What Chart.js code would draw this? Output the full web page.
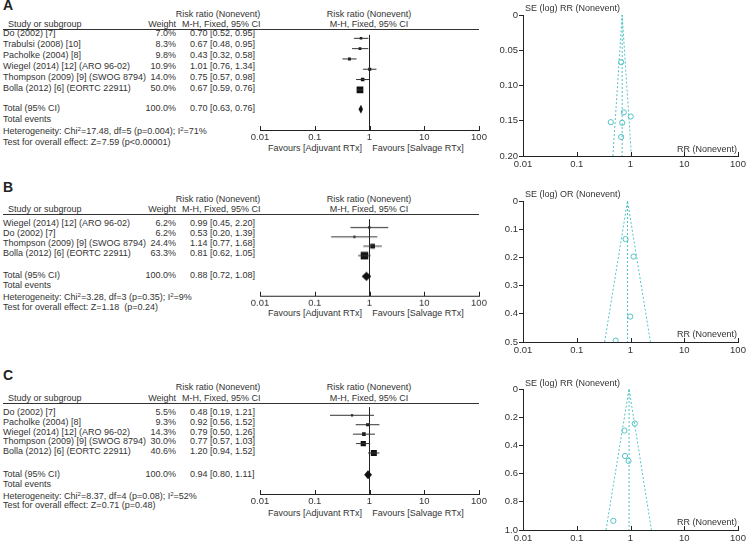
<!DOCTYPE html>
<html>
<head>
<meta charset="utf-8">
<script src="https://cdn.jsdelivr.net/npm/chart.js@4.4.0/dist/chart.umd.min.js"></script>
<style>
  html, body { margin: 0; padding: 0; background: #fff; }
  body {
    width: 750px; height: 541px; position: relative; overflow: hidden;
    font-family: "Liberation Sans", Arial, sans-serif; font-size: 9px; color: #333;
  }
  .t { position: absolute; white-space: nowrap; line-height: 10px; }
  .t sup { font-size: 6px; vertical-align: 3px; line-height: 0; }
  .lbl { font-weight: bold; font-size: 14px; line-height: 14px; color: #222; }
  .rule { position: absolute; height: 1px; background: #333; }
  canvas { position: absolute; }
</style>
</head>
<body>
<script>
// ---- A: adjuvant vs salvage, all studies
const studiesA = ["Do (2002) [7]", "Trabulsi (2008) [10]", "Pacholke (2004) [8]",
  "Wiegel (2014) [12] (ARO 96-02)", "Thompson (2009) [9] (SWOG 8794)", "Bolla (2012) [6] (EORTC 22911)"];
const weightA = [7.0, 8.3, 9.8, 10.9, 14.0, 50.0];
const rrA = [0.70, 0.67, 0.43, 1.01, 0.75, 0.67];
const loA = [0.52, 0.48, 0.32, 0.76, 0.57, 0.59];
const hiA = [0.95, 0.95, 0.58, 1.34, 0.98, 0.76];
const totalA = [0.70, 0.63, 0.76];   // estimate, lower, upper
const seA = [0.153, 0.173, 0.152, 0.144, 0.138, 0.067];
const funnelA = [0.70, 0.47, 1.04];  // centre, lower and upper limit at max SE

// ---- B
const studiesB = ["Wiegel (2014) [12] (ARO 96-02)", "Do (2002) [7]",
  "Thompson (2009) [9] (SWOG 8794)", "Bolla (2012) [6] (EORTC 22911)"];
const weightB = [6.2, 6.2, 24.4, 63.3];
const rrB = [0.99, 0.53, 1.14, 0.81];
const loB = [0.45, 0.20, 0.77, 0.62];
const hiB = [2.20, 1.39, 1.68, 1.05];
const totalB = [0.88, 0.72, 1.08];
const seB = [0.41, 0.495, 0.197, 0.135];
const funnelB = [0.88, 0.33, 2.35];

// ---- C
const studiesC = ["Do (2002) [7]", "Pacholke (2004) [8]", "Wiegel (2014) [12] (ARO 96-02)",
  "Thompson (2009) [9] (SWOG 8794)", "Bolla (2012) [6] (EORTC 22911)"];
const weightC = [5.5, 9.3, 14.3, 30.0, 40.6];
const rrC = [0.48, 0.92, 0.79, 0.77, 1.20];
const loC = [0.19, 0.56, 0.50, 0.57, 0.94];
const hiC = [1.21, 1.52, 1.26, 1.03, 1.52];
const totalC = [0.94, 0.80, 1.11];
const seC = [0.935, 0.51, 0.475, 0.295, 0.245];
const funnelC = [0.94, 0.35, 2.45];

const rrTicks = [0.01, 0.1, 1, 10, 100];

const CYAN = "#52c3c8";
const INK = "#222";

// layout of each panel (pixels)
const panels = [
  { name: "A", studies: studiesA, weight: weightA, rr: rrA, lo: loA, hi: hiA, total: totalA,
    het: ["17.48", "5", "0.004", "71"], test: "Z=7.59 (p<0.00001)",
    se: seA, funnel: funnelA, seMax: 0.20, seStep: 0.05, seDec: 2, seTitle: "SE (log) RR (Nonevent)",
    letterY: -2, hdr1Y: 14, hdr2Y: 24, lineY: 29.5, firstY: 33.3, rowH: 10.9, totalY: 108.3,
    eventsY: 119, hetY: 131, testY: 142, axisY: 130.3, favY: 148.3,
    fTop: 15, fBottom: 156, fTitleY: 8, fRRY: 149 },
  { name: "B", studies: studiesB, weight: weightB, rr: rrB, lo: loB, hi: hiB, total: totalB,
    het: ["3.28", "3", "0.35", "9"], test: "Z=1.18&nbsp; (p=0.24)",
    se: seB, funnel: funnelB, seMax: 0.5, seStep: 0.1, seDec: 1, seTitle: "SE (log) OR (Nonevent)",
    letterY: 180, hdr1Y: 199, hdr2Y: 209, lineY: 214, firstY: 222.7, rowH: 10, totalY: 275,
    eventsY: 285, hetY: 297, testY: 307, axisY: 295.7, favY: 313.3,
    fTop: 201, fBottom: 342, fTitleY: 194, fRRY: 334 },
  { name: "C", studies: studiesC, weight: weightC, rr: rrC, lo: loC, hi: hiC, total: totalC,
    het: ["8.37", "4", "0.08", "52"], test: "Z=0.71 (p=0.48)",
    se: seC, funnel: funnelC, seMax: 1.0, seStep: 0.2, seDec: 1, seTitle: "SE (log) RR (Nonevent)",
    letterY: 368, hdr1Y: 387, hdr2Y: 398, lineY: 403.3, firstY: 411.7, rowH: 9.9, totalY: 474,
    eventsY: 484, hetY: 496, testY: 505, axisY: 494.3, favY: 513.3,
    fTop: 389, fBottom: 530, fTitleY: 383, fRRY: 522 }
];

function txt(x, y, html, align, cls) {
  const d = document.createElement("div");
  d.className = "t" + (cls ? " " + cls : "");
  d.innerHTML = html;
  d.style.top = (y - 5) + "px";
  if (align === "right") d.style.right = (750 - x) + "px";
  else if (align === "center") { d.style.left = x + "px"; d.style.transform = "translateX(-50%)"; }
  else d.style.left = x + "px";
  document.body.appendChild(d);
  return d;
}

function mkCanvas(x, y, w, h) {
  const c = document.createElement("canvas");
  c.width = w; c.height = h;
  c.style.left = x + "px"; c.style.top = y + "px";
  c.style.width = w + "px"; c.style.height = h + "px";
  document.body.appendChild(c);
  return c;
}

const fmt = v => v.toFixed(2);
const ciText = (e, l, h) => fmt(e) + " [" + fmt(l) + ", " + fmt(h) + "]";

// tick marks pointing up into the plot from the x axis
const upTicks = {
  id: "upTicks",
  afterDraw(chart) {
    const s = chart.scales.x, ctx = chart.ctx;
    ctx.save();
    ctx.strokeStyle = INK; ctx.lineWidth = 1;
    s.ticks.forEach(t => {
      const x = Math.round(s.getPixelForValue(t.value)) + 0.5;
      ctx.beginPath(); ctx.moveTo(x, s.top); ctx.lineTo(x, s.top - 4); ctx.stroke();
    });
    ctx.restore();
  }
};

// pooled estimate diamond
const diamond = {
  id: "diamond",
  afterDatasetsDraw(chart, args, o) {
    const x = chart.scales.x, y = chart.scales.y, ctx = chart.ctx;
    const yc = y.getPixelForValue(o.row);
    ctx.save();
    ctx.fillStyle = "#111";
    ctx.beginPath();
    ctx.moveTo(x.getPixelForValue(o.lo), yc);
    ctx.lineTo(x.getPixelForValue(o.est), yc - 4.5);
    ctx.lineTo(x.getPixelForValue(o.hi), yc);
    ctx.lineTo(x.getPixelForValue(o.est), yc + 4.5);
    ctx.closePath();
    ctx.fill();
    ctx.restore();
  }
};

const tickFont = { family: "'Liberation Sans', Arial, sans-serif", size: 9.5 };

function forestChart(p) {
  const c = mkCanvas(240, p.lineY, 260, p.axisY - p.lineY + 30);
  const yOf = y => (y - p.firstY) / p.rowH;
  const yMin = yOf(p.lineY), yMax = yOf(p.axisY);
  const datasets = [];
  p.lo.forEach((lo, i) => datasets.push({
    type: "line", data: [{ x: lo, y: i }, { x: p.hi[i], y: i }],
    borderColor: "#333", borderWidth: 1, pointRadius: 0
  }));
  datasets.push({
    type: "line", data: [{ x: 1, y: yMin }, { x: 1, y: yMax }],
    borderColor: INK, borderWidth: 1, pointRadius: 0
  });
  datasets.push({
    type: "scatter", data: p.rr.map((v, i) => ({ x: v, y: i })),
    pointStyle: "rect",
    pointRadius: p.weight.map(w => Math.max(2.2, 0.95 * Math.sqrt(w)) / Math.SQRT2),
    backgroundColor: "#111", borderWidth: 0
  });
  new Chart(c, {
    data: { datasets },
    options: {
      responsive: false, animation: false,
      layout: { padding: { left: 20, right: 21, top: 0, bottom: 0 } },
      plugins: {
        legend: { display: false }, tooltip: { enabled: false },
        diamond: { est: p.total[0], lo: p.total[1], hi: p.total[2], row: yOf(p.totalY) }
      },
      scales: {
        x: {
          type: "logarithmic", min: 0.01, max: 100,
          afterBuildTicks: s => { s.ticks = rrTicks.map(v => ({ value: v })); },
          afterFit: s => { s.height = 30; },
          ticks: { callback: v => String(v), font: tickFont, color: "#333", padding: 2, maxRotation: 0 },
          grid: { display: false, drawTicks: false },
          border: { color: INK }
        },
        y: { type: "linear", reverse: true, min: yMin, max: yMax, display: false }
      }
    },
    plugins: [upTicks, diamond]
  });
}

function funnelChart(p) {
  const c = mkCanvas(480, p.fTop - 10, 270, p.fBottom - p.fTop + 30);
  const [mid, low, up] = p.funnel;
  new Chart(c, {
    type: "scatter",
    data: {
      datasets: [
        {
          type: "line", label: "centre", data: [{ x: mid, y: 0 }, { x: mid, y: p.seMax }],
          borderColor: CYAN, borderWidth: 1, borderDash: [2, 2], pointRadius: 0, fill: false
        },
        {
          type: "line", label: "limits", data: [{ x: low, y: p.seMax }, { x: mid, y: 0 }, { x: up, y: p.seMax }],
          borderColor: CYAN, borderWidth: 1, borderDash: [2, 2], pointRadius: 0, fill: false
        },
        {
          type: "scatter", label: "studies", data: p.rr.map((v, i) => ({ x: v, y: p.se[i] })),
          pointStyle: "circle", pointRadius: 2.6, borderColor: CYAN, borderWidth: 1,
          backgroundColor: "rgba(255,255,255,0)"
        }
      ]
    },
    options: {
      responsive: false, animation: false,
      layout: { padding: { left: 0, right: 12, top: 10, bottom: 0 } },
      plugins: { legend: { display: false }, tooltip: { enabled: false } },
      scales: {
        x: {
          type: "logarithmic", min: 0.01, max: 100,
          afterBuildTicks: s => { s.ticks = rrTicks.map(v => ({ value: v })); },
          afterFit: s => { s.height = 20; },
          ticks: { callback: v => String(v), font: tickFont, color: "#333", padding: 3, maxRotation: 0 },
          grid: { display: false, drawTicks: false },
          border: { color: INK }
        },
        y: {
          type: "linear", reverse: true, min: 0, max: p.seMax,
          afterFit: s => { s.width = 43; },
          ticks: {
            stepSize: p.seStep, font: tickFont, color: "#333", padding: 1,
            callback: v => (Math.abs(v) < 1e-9 ? "0" : v.toFixed(p.seDec))
          },
          grid: { drawOnChartArea: false, drawTicks: true, tickLength: 4, color: INK },
          border: { color: INK }
        }
      }
    },
    plugins: [upTicks]
  });
  txt(525, p.fTitleY, p.seTitle, "left");
  txt(737, p.fRRY, "RR (Nonevent)", "right");
}

function table(p) {
  txt(3, p.letterY + 7, p.name, "left", "lbl").style.top = p.letterY + "px";
  txt(218, p.hdr1Y, "Risk ratio (Nonevent)", "center");
  txt(8, p.hdr2Y, "Study or subgroup", "left");
  txt(176, p.hdr2Y, "Weight", "right");
  txt(182, p.hdr2Y, "M-H, Fixed, 95% CI", "left");
  txt(369, p.hdr1Y, "Risk ratio (Nonevent)", "center");
  txt(369, p.hdr2Y, "M-H, Fixed, 95% CI", "center");
  const r = document.createElement("div");
  r.className = "rule";
  r.style.left = "3px"; r.style.width = "476px"; r.style.top = Math.floor(p.lineY) + "px";
  document.body.appendChild(r);
  p.studies.forEach((s, i) => {
    const y = p.firstY + i * p.rowH;
    txt(3, y, s, "left");
    txt(176, y, p.weight[i].toFixed(1) + "%", "right");
    txt(190, y, ciText(p.rr[i], p.lo[i], p.hi[i]), "left");
  });
  txt(3, p.totalY, "Total (95% CI)", "left");
  txt(176, p.totalY, "100.0%", "right");
  txt(190, p.totalY, ciText(p.total[0], p.total[1], p.total[2]), "left");
  txt(3, p.eventsY, "Total events", "left");
  txt(3, p.hetY, "Heterogeneity: Chi<sup>2</sup>=" + p.het[0] + ", df=" + p.het[1] +
    " (p=" + p.het[2] + "); I<sup>2</sup>=" + p.het[3] + "%", "left");
  txt(3, p.testY, "Test for overall effect: " + p.test, "left");
  txt(315, p.favY, "Favours [Adjuvant RTx]", "center");
  txt(418, p.favY, "Favours [Salvage RTx]", "center");
}

panels.forEach(p => { table(p); forestChart(p); funnelChart(p); });
</script>
</body>
</html>
